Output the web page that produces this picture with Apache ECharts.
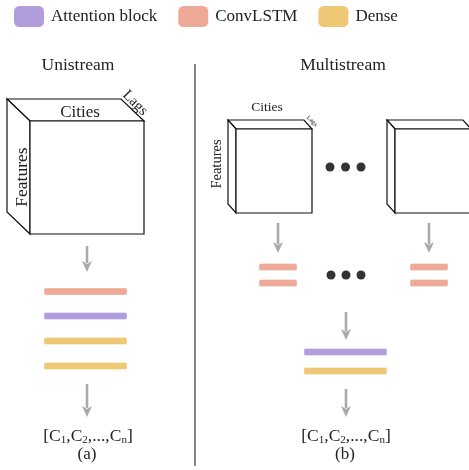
<!DOCTYPE html>
<html><head><meta charset="utf-8">
<script src="https://cdn.jsdelivr.net/npm/echarts@6/dist/echarts.min.js"></script>
<style>html,body{margin:0;padding:0;background:#fff}#c{width:469px;height:470px}</style>
</head><body><div id="c"></div>
<script>
// ---- data (diagram coordinates in a 469 x 470 value space) ----
const layerNames = ['Attention block', 'ConvLSTM', 'Dense'];
const layerColors = ['#b19ddb', '#eeaa96', '#eec874'];
// layer blocks: [x0, x1, yCenter]
const attentionBlocks = [[44, 127, 316], [304, 387, 352]];
const convlstmBlocks = [[44, 127, 291.5], [259, 297, 267], [259, 297, 283], [410, 448, 267], [410, 448, 283]];
const denseBlocks = [[44, 127, 341], [44, 127, 366], [304, 387, 371]];
// cubes: [frontX0, frontY0, frontX1, frontY1, depthDx, depthDy]
const cubes = [[30, 121, 144, 234, -23, -22], [236, 129, 312, 213, -8, -9], [395, 129, 471, 213, -8, -9]];
// arrows: [x, yStart, yEnd]
const arrows = [[87, 246, 272], [87, 384, 417], [278, 223, 253], [429, 223, 253], [346, 312, 340], [346, 389, 417]];
// ellipsis dots: [x, y]
const dots = [[330, 167], [345.5, 167], [361, 167], [331, 275], [346, 275], [361, 275]];
// divider: [x, y0, y1]
const divider = [195, 64, 466];
// labels: [text, x, y, fontSize, rotationDeg]
const labels = [
  ['Unistream', 78, 65, 17.5, 0],
  ['Multistream', 343, 65, 17.5, 0],
  ['Cities', 80, 113, 17, 0],
  ['Lags', 135, 103, 15, -45],
  ['Features', 22, 177, 17.5, 90],
  ['Cities', 267, 107, 13.5, 0],
  ['Lags', 312, 121, 6.5, -45],
  ['Features', 217, 164, 14.5, 90],
  ['(a)', 87, 455, 17, 0],
  ['(b)', 345, 455, 17, 0]
];
const outputs = [[88, 436], [346, 436]];
const outputText = '{m|[C}{s|1}{m|,C}{s|2}{m|,...,C}{s|n}{m|]}';

const FONT = 'Liberation Serif';

function blockSeries(name, color, data) {
  return {
    name: name, type: 'custom', coordinateSystem: 'cartesian2d',
    itemStyle: { color: color }, color: color,
    data: data,
    renderItem: function (params, api) {
      const p0 = api.coord([api.value(0), api.value(2)]);
      const p1 = api.coord([api.value(1), api.value(2)]);
      const h = 7;
      return {
        type: 'rect',
        shape: { x: p0[0], y: p0[1] - h / 2, width: p1[0] - p0[0], height: h, r: 1.5 },
        style: { fill: color, stroke: 'rgba(255,255,255,0.6)', lineWidth: 0.6 }
      };
    }
  };
}

const chart = echarts.init(document.getElementById('c'), null, { renderer: 'canvas' });
chart.setOption({
  animation: false,
  backgroundColor: '#fff',
  grid: { left: 0, right: 0, top: 0, bottom: 0 },
  xAxis: { type: 'value', min: 0, max: 469, show: false },
  yAxis: { type: 'value', min: 0, max: 470, inverse: true, show: false },
  legend: {
    data: layerNames, left: 9, top: 1, icon: 'roundRect',
    itemWidth: 30, itemHeight: 21, itemGap: 21,
    textStyle: { fontFamily: FONT, fontSize: 17, color: '#222', padding: [0, 0, 0, 2] }
  },
  series: [
    blockSeries(layerNames[0], layerColors[0], attentionBlocks),
    blockSeries(layerNames[1], layerColors[1], convlstmBlocks),
    blockSeries(layerNames[2], layerColors[2], denseBlocks),
    {
      type: 'custom', coordinateSystem: 'cartesian2d', data: cubes, silent: true,
      renderItem: function (params, api) {
        const x0 = api.value(0), y0 = api.value(1), x1 = api.value(2), y1 = api.value(3);
        const dx = api.value(4), dy = api.value(5);
        const c = (x, y) => api.coord([x, y]);
        const st = { fill: '#fff', stroke: '#111', lineWidth: 1.2 };
        return {
          type: 'group', children: [
            { type: 'polygon', shape: { points: [c(x0, y0), c(x1, y0), c(x1 + dx, y0 + dy), c(x0 + dx, y0 + dy)] }, style: st },
            { type: 'polygon', shape: { points: [c(x0, y0), c(x0 + dx, y0 + dy), c(x0 + dx, y1 + dy), c(x0, y1)] }, style: st },
            { type: 'polygon', shape: { points: [c(x0, y0), c(x1, y0), c(x1, y1), c(x0, y1)] }, style: st }
          ]
        };
      }
    },
    {
      type: 'custom', coordinateSystem: 'cartesian2d', data: arrows, silent: true,
      renderItem: function (params, api) {
        const a = api.coord([api.value(0), api.value(1)]);
        const b = api.coord([api.value(0), api.value(2)]);
        const hl = 11, hw = 5;
        return {
          type: 'group', children: [
            { type: 'line', shape: { x1: a[0], y1: a[1], x2: b[0], y2: b[1] - hl + 2 }, style: { stroke: '#aaaaaa', lineWidth: 2.6 } },
            { type: 'polygon', shape: { points: [[b[0], b[1]], [b[0] - hw, b[1] - hl], [b[0], b[1] - hl + 3], [b[0] + hw, b[1] - hl]] }, style: { fill: '#aaaaaa' } }
          ]
        };
      }
    },
    {
      type: 'scatter', data: dots, symbolSize: 9, silent: true,
      itemStyle: { color: '#000' }
    },
    {
      type: 'custom', coordinateSystem: 'cartesian2d', data: [divider], silent: true,
      renderItem: function (params, api) {
        const a = api.coord([api.value(0), api.value(1)]);
        const b = api.coord([api.value(0), api.value(2)]);
        return { type: 'line', shape: { x1: a[0], y1: a[1], x2: b[0], y2: b[1] }, style: { stroke: '#333', lineWidth: 1.2 } };
      }
    },
    {
      type: 'custom', coordinateSystem: 'cartesian2d', silent: true,
      data: labels.map(l => [l[1], l[2], l[3], l[4], l[0]]),
      dimensions: ['x', 'y', 'size', 'rot', 'text'],
      renderItem: function (params, api) {
        const l = labels[params.dataIndex];
        const p = api.coord([l[1], l[2]]);
        return {
          type: 'text', x: p[0], y: p[1], rotation: l[4] * Math.PI / 180,
          style: { text: l[0], fontFamily: FONT, fontSize: l[3], fill: '#222', align: 'center', verticalAlign: 'middle' }
        };
      }
    },
    {
      type: 'custom', coordinateSystem: 'cartesian2d', data: outputs, silent: true,
      renderItem: function (params, api) {
        const p = api.coord([api.value(0), api.value(1)]);
        return {
          type: 'text', x: p[0], y: p[1],
          style: {
            text: outputText, align: 'center', verticalAlign: 'middle',
            rich: {
              m: { fontFamily: FONT, fontSize: 17.5, fill: '#222', color: '#222', lineHeight: 19 },
              s: { fontFamily: FONT, fontSize: 11, fill: '#222', color: '#222', lineHeight: 2, verticalAlign: 'bottom' }
            }
          }
        };
      }
    }
  ]
});
</script></body></html>
